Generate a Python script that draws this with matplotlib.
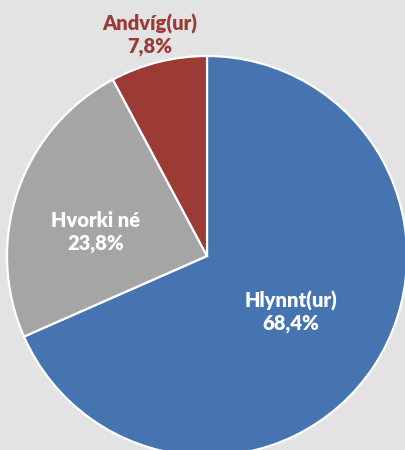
import matplotlib.pyplot as plt

# Data
labels = ["Hlynnt(ur)", "Hvorki né", "Andvíg(ur)"]
shares = [68.4, 23.8, 7.8]
colors = ["#4574b0", "#a5a5a5", "#9c3b36"]
label_colors = ["white", "white", "#9c3b36"]
# label centres in pixel coords (x, y from top)
label_pos = [(291, 312), (96, 232), (150, 35)]

W, H = 405, 450
fig = plt.figure(figsize=(W / 100, H / 100), dpi=100)
fig.patch.set_facecolor("#e3e3e3")
ax = fig.add_axes([0, 0, 1, 1])
ax.set_facecolor("#e3e3e3")

ax.pie(shares, colors=colors, startangle=90, counterclock=False,
       center=(207, H - 256), radius=200,
       wedgeprops=dict(edgecolor="white", linewidth=1.6))
ax.set_xlim(0, W)
ax.set_ylim(0, H)
ax.set_aspect("auto")
ax.axis("off")

for lab, val, c, (x, y) in zip(labels, shares, label_colors, label_pos):
    txt = lab + "\n" + f"{val:.1f}%".replace(".", ",")
    ax.text(x, H - y, txt, ha="center", va="center", color=c,
            fontsize=14.5, fontweight="heavy", family="Lato",
            linespacing=1.2)

fig.savefig("out.png", dpi=100, facecolor=fig.get_facecolor())
